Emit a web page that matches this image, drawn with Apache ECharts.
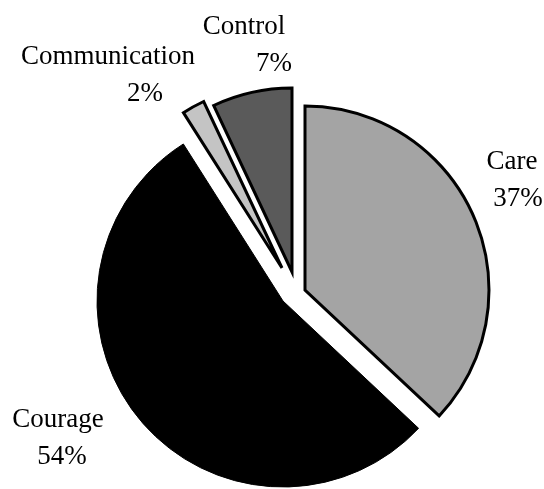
<!DOCTYPE html>
<html>
<head>
<meta charset="utf-8">
<script src="https://cdn.jsdelivr.net/npm/echarts@6/dist/echarts.min.js"></script>
<style>
html,body{margin:0;padding:0;background:#fff;}
#chart{width:544px;height:489px;}
</style>
</head>
<body>
<div id="chart"></div>
<script>
// Data
const categories = ['Care', 'Courage', 'Communication', 'Control'];
const values = [37, 54, 2, 7];

// Styles / layout (not data)
const fills = ['#a4a4a4', '#000000', '#c4c4c4', '#5a5a5a'];
const centers = [[305, 290], [283, 301], [282, 268], [292, 272]];
const radii = [184, 186, 184, 184];
const labelPos = [[512, 180], [58, 438], [108, 75], [244, 45]];
const pctShift = [12, 8, 74, 60];

const chart = echarts.init(document.getElementById('chart'), null, {renderer: 'canvas'});

const series = categories.map((cat, i) => ({
  type: 'pie',
  radius: radii[i],
  center: centers[i],
  startAngle: 90,
  clockwise: true,
  silent: true,
  animation: false,
  avoidLabelOverlap: false,
  percentPrecision: 0,
  emphasis: {disabled: true},
  labelLine: {show: false},
  labelLayout: function (p) {
    return {x: labelPos[p.dataIndex][0], y: labelPos[p.dataIndex][1], align: 'center', verticalAlign: 'middle'};
  },
  data: categories.map((n, j) => ({
    name: n,
    value: values[j],
    itemStyle: j === i
      ? {color: fills[j], borderColor: '#000', borderWidth: j === 1 ? 1 : 3, borderJoin: 'miter'}
      : {color: 'rgba(0,0,0,0)', borderWidth: 0},
    label: {
      show: j === i,
      position: 'outside',
      formatter: '{n|{b}}\n{p|{d}%}',
      align: 'center',
      rich: {
        n: {fontFamily: 'Liberation Serif', fontSize: 27, color: '#000', lineHeight: 37, align: 'center'},
        p: {fontFamily: 'Liberation Serif', fontSize: 27, color: '#000', lineHeight: 37, align: 'center', padding: [0, 0, 0, pctShift[j]]}
      }
    }
  }))
}));

chart.setOption({
  backgroundColor: '#fff',
  animation: false,
  series: series
});
</script>
</body>
</html>
